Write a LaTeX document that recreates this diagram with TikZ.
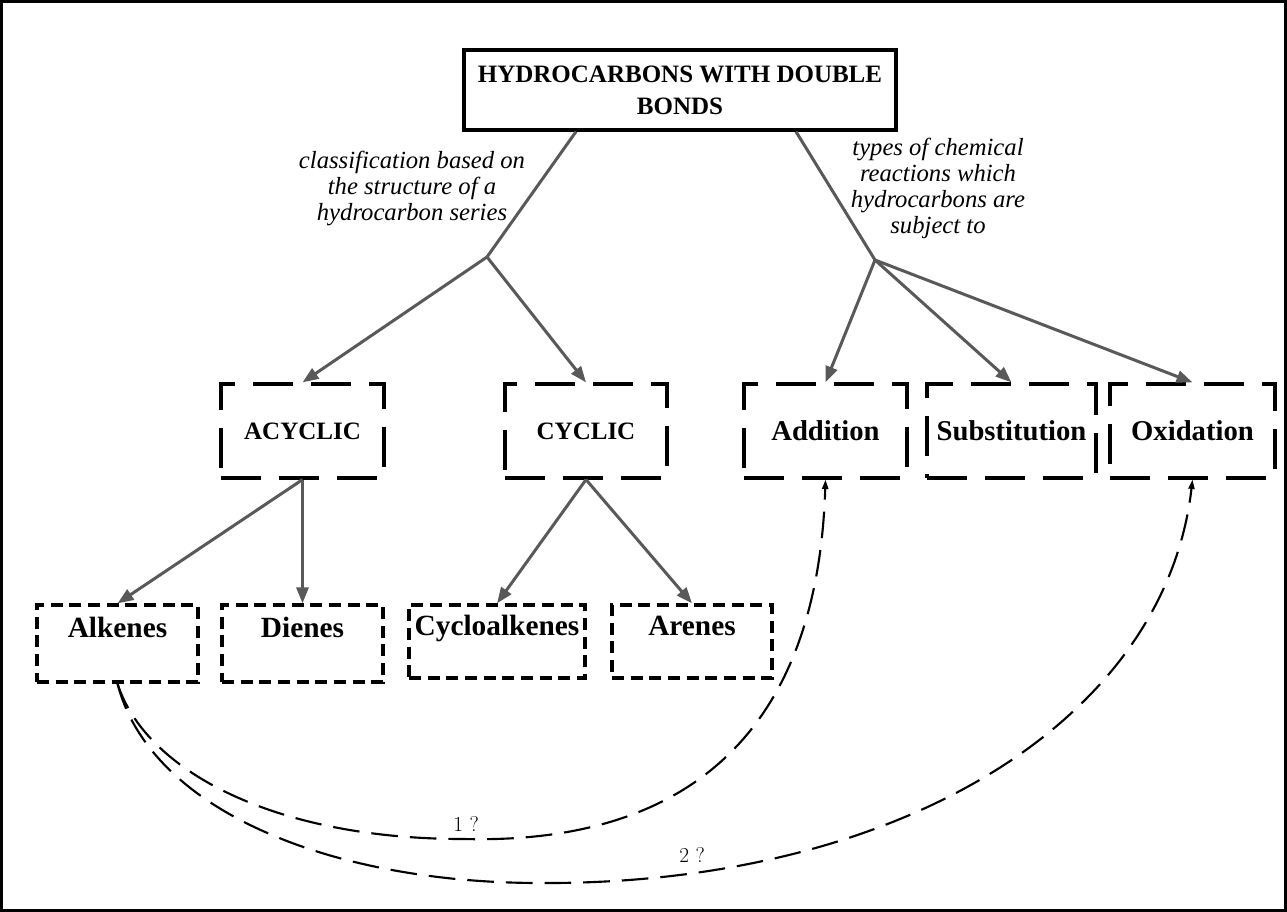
\documentclass[tikz,border=0pt]{standalone}
\usepackage{fontspec}
\setmainfont{Liberation Serif}
\usetikzlibrary{arrows.meta}
\definecolor{conncol}{RGB}{89,89,89}
\begin{document}
\begin{tikzpicture}[x=0.75pt,y=-0.75pt,
  titlebox/.style={draw=black, line width=2.5pt, inner sep=0pt, align=center,
    font=\bfseries\fontsize{18.75}{24}\selectfont},
  midbox/.style={draw=black, line width=2.4pt, dash pattern=on 30pt off 13.5pt,
    inner sep=0pt, minimum height=70.5pt},
  midfont/.style={font=\bfseries\fontsize{18.75}{22}\selectfont},
  reactfont/.style={font=\bfseries\fontsize{21.5}{24}\selectfont},
  lowbox/.style={draw=black, line width=2.4pt, dash pattern=on 9pt off 5pt,
    inner xsep=0pt, inner ysep=0pt, font=\bfseries\fontsize{22}{26}\selectfont},
  conn/.style={draw=conncol, line width=2.25pt},
  connarrow/.style={conn, -{Triangle[length=12pt,width=9pt]}},
  link/.style={draw=black, line width=1.6pt, dash pattern=on 20pt off 9pt,
    -{Triangle[length=7pt,width=4.5pt]}},
  lbl/.style={font=\itshape\fontsize{18.5}{19.5}\selectfont, align=center},
  qlbl/.style={font=\fontfamily{lmr}\selectfont\fontsize{16}{16}\selectfont, inner sep=0pt},
]
\useasboundingbox (0,0) rectangle (1287,912);
\draw[line width=2.5pt] (1.7,1.7) rectangle (1285.3,910.3);

% title
\node[titlebox, minimum width=324pt, minimum height=60pt] (title) at (680,90)
  {HYDROCARBONS WITH DOUBLE\\BONDS};

% labels
\node[lbl] (lblL) at (412,188) {classification based on\\the structure of a\\hydrocarbon series};
\node[lbl] (lblR) at (938,188) {types of chemical\\reactions which\\hydrocarbons are\\subject to};

% junctions
\coordinate (jL) at (487,257);
\coordinate (jR) at (875,260);

% middle level
\node[midbox, midfont, minimum width=122.25pt] (acyc) at (302.5,431) {ACYCLIC};
\node[midbox, midfont, minimum width=121.5pt] (cyc) at (586,431) {CYCLIC};
\node[midbox, reactfont, minimum width=122.25pt] (add) at (825.5,431) {Addition};
\node[midbox, reactfont, minimum width=126.75pt] (sub) at (1011.5,431) {Substitution};
\node[midbox, reactfont, minimum width=123.75pt] (oxi) at (1192.5,431) {Oxidation};

% lower level
\node[lowbox, minimum width=120.75pt, text height=24pt, text depth=33.75pt] (alk) at (117.5,643.5) {Alkenes};
\node[lowbox, minimum width=120.75pt, text height=24pt, text depth=33.75pt] (die) at (302.5,643.5) {Dienes};
\node[lowbox, minimum width=132pt, text height=23pt, text depth=31.75pt] (cyca) at (497,641.5) {Cycloalkenes};
\node[lowbox, minimum width=120pt, text height=23pt, text depth=31.75pt] (are) at (692,641.5) {Arenes};

% connectors
\draw[conn] ([xshift=-78pt]title.south) -- (jL);
\draw[conn] ([xshift=87pt]title.south) -- (jR);
\draw[connarrow] (jL) -- (acyc.north);
\draw[connarrow] (jL) -- (cyc.north);
\draw[connarrow] (jR) -- (add.north);
\draw[connarrow] (jR) -- (sub.north);
\draw[connarrow] (jR) -- (oxi.north);
\draw[connarrow] (acyc.south) -- (alk.north);
\draw[connarrow] (acyc.south) -- (die.north);
\draw[connarrow] (cyc.south) -- (cyca.north);
\draw[connarrow] (cyc.south) -- (are.north);

% dashed links
\coordinate (b1) at (463,839);
\coordinate (b2) at (540,883);
\draw[link] (alk.south) .. controls (145,770) and (273,839) .. (b1)
  .. controls (700,845) and (818,720) .. (add.south);
\draw[link] (alk.south) .. controls (150,810) and (330,883) .. (b2)
  .. controls (900,885) and (1165,720) .. (oxi.south);
\node[qlbl] (q1) at (466,824) {1 ?};
\node[qlbl] (q2) at (692,855) {2 ?};
\end{tikzpicture}
\end{document}
